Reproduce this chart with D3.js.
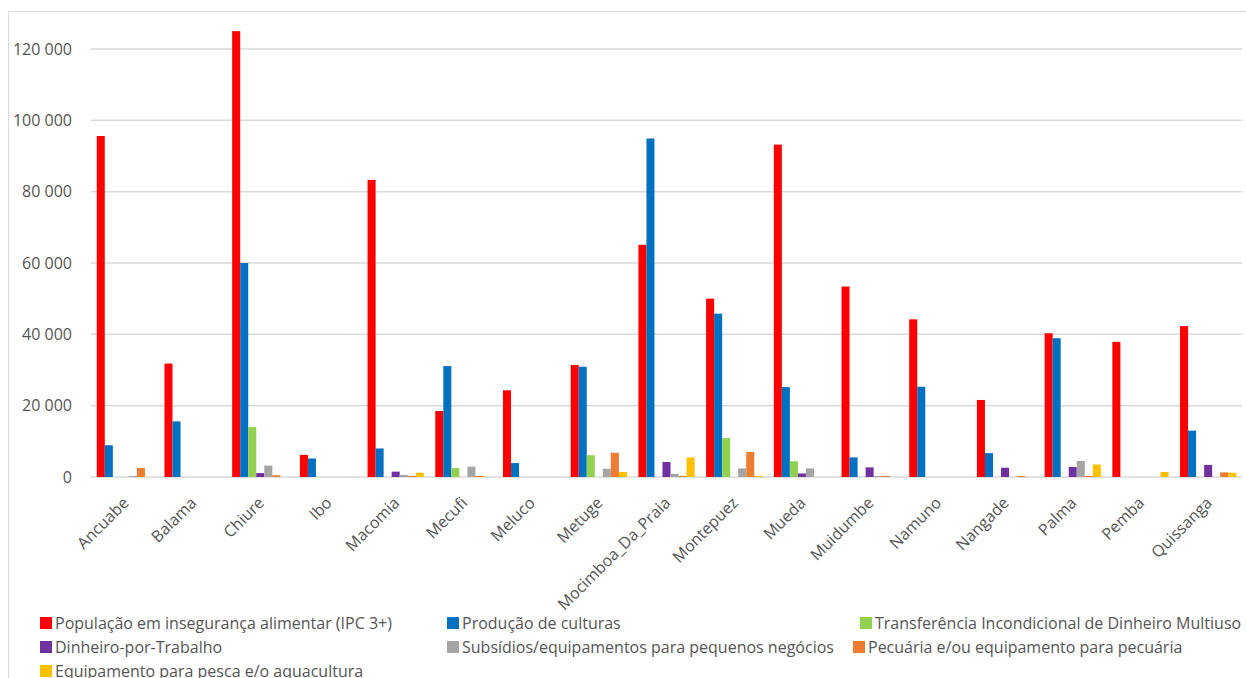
<!DOCTYPE html>
<html>
<head>
<meta charset="utf-8">
<style>
  body { margin: 0; background: #fff; font-family: "Open Sans", Helvetica, Arial, sans-serif; }
  svg text { fill: #555555; }
</style>
</head>
<body>
<svg id="chart" width="1246" height="678"></svg>
<script src="https://cdn.jsdelivr.net/npm/d3@7/dist/d3.min.js"></script>
<script>
  // districts
  var categories = ["Ancuabe", "Balama", "Chiure", "Ibo", "Macomia", "Mecufi", "Meluco", "Metuge",
    "Mocimboa_Da_Praia", "Montepuez", "Mueda", "Muidumbe", "Namuno", "Nangade", "Palma", "Pemba", "Quissanga"];

  var seriesNames = [
    "População em insegurança alimentar (IPC 3+)",
    "Produção de culturas",
    "Transferência Incondicional de Dinheiro Multiuso",
    "Dinheiro-por-Trabalho",
    "Subsídios/equipamentos para pequenos negócios",
    "Pecuária e/ou equipamento para pecuária",
    "Equipamento para pesca e/o aquacultura"
  ];
  var seriesColors = ["#ff0000", "#0070c0", "#92d050", "#7030a0", "#a5a5a5", "#ed7d31", "#ffc000"];

  // values, one array per series
  var ipc      = [95600, 31800, 125000, 6200, 83300, 18500, 24300, 31400, 65100, 50000, 93200, 53400, 44200, 21600, 40300, 37900, 42300];
  var culturas = [8900, 15600, 60000, 5200, 8000, 31100, 3900, 30900, 94900, 45800, 25200, 5500, 25300, 6700, 38900, 0, 13000];
  var tidm     = [0, 0, 14000, 0, 0, 2500, 0, 6100, 0, 10900, 4400, 0, 0, 0, 0, 0, 0];
  var dpt      = [0, 0, 1100, 0, 1500, 0, 0, 0, 4200, 0, 1000, 2700, 0, 2600, 2800, 0, 3400];
  var subs     = [300, 0, 3200, 0, 600, 2900, 0, 2300, 900, 2400, 2400, 300, 0, 0, 4500, 0, 0];
  var pecuaria = [2500, 0, 500, 0, 300, 300, 0, 6800, 300, 7000, 0, 300, 0, 300, 300, 0, 1300];
  var pesca    = [0, 0, 0, 0, 1200, 0, 0, 1400, 5500, 300, 0, 0, 0, 0, 3500, 1400, 1200];
  var series = [ipc, culturas, tidm, dpt, subs, pecuaria, pesca];

  var yTicks = [0, 20000, 40000, 60000, 80000, 100000, 120000];

  var svg = d3.select("#chart");
  var plot = { left: 91, right: 1242, top: 49, bottom: 477 };

  // chart frame (only left & top visible in the crop)
  svg.append("path")
    .attr("d", "M8.5,678 V11.5 H1246")
    .attr("fill", "none")
    .attr("stroke", "#d9d9d9")
    .attr("stroke-width", 1);

  var y = d3.scaleLinear().domain([0, 120000]).range([plot.bottom, plot.top]);
  var x0 = d3.scaleBand().domain(categories).range([plot.left, plot.right]).paddingInner(0.17).paddingOuter(0.085);
  var x1 = d3.scaleBand().domain(d3.range(series.length)).range([0, x0.bandwidth()]);

  var fmt = function (v) { return d3.format(",")(v).replace(/,/g, " "); };

  // gridlines
  svg.append("g").selectAll("line").data(yTicks).enter().append("line")
    .attr("x1", plot.left).attr("x2", plot.right)
    .attr("y1", function (d) { return y(d); }).attr("y2", function (d) { return y(d); })
    .attr("stroke", "#d9d9d9").attr("stroke-width", 1.5);

  // y labels
  svg.append("g").selectAll("text").data(yTicks).enter().append("text")
    .attr("x", 72).attr("y", function (d) { return y(d); })
    .attr("dy", "0.35em")
    .attr("text-anchor", "end")
    .attr("font-size", "16px")
    .text(fmt);

  // bars
  var groups = svg.append("g").selectAll("g").data(categories).enter().append("g")
    .attr("transform", function (d) { return "translate(" + x0(d) + ",0)"; });
  groups.selectAll("rect")
    .data(function (d, i) { return series.map(function (s, k) { return { k: k, v: s[i] }; }); })
    .enter().append("rect")
    .attr("x", function (d) { return x1(d.k); })
    .attr("width", x1.bandwidth())
    .attr("y", function (d) { return y(d.v); })
    .attr("height", function (d) { return y(0) - y(d.v); })
    .attr("fill", function (d) { return seriesColors[d.k]; });

  // category labels
  svg.append("g").selectAll("text").data(categories).enter().append("text")
    .attr("transform", function (d) { return "translate(" + (x0(d) + x0.bandwidth() / 2 - 3) + ",496) rotate(-45)"; })
    .attr("text-anchor", "end")
    .attr("dy", "0.7em")
    .attr("font-size", "16px")
    .text(function (d) { return d; });

  // legend
  var legendPos = [[40, 623], [447, 623], [860, 623], [40, 647], [447, 647], [853, 647], [40, 671]];
  var leg = svg.append("g").selectAll("g").data(seriesNames).enter().append("g")
    .attr("transform", function (d, i) { return "translate(" + legendPos[i][0] + "," + legendPos[i][1] + ")"; });
  leg.append("rect").attr("x", 0).attr("y", -6).attr("width", 12).attr("height", 12)
    .attr("fill", function (d, i) { return seriesColors[i]; });
  leg.append("text").attr("x", 15).attr("dy", "0.35em").attr("font-size", "16px")
    .text(function (d) { return d; });
</script>
</body>
</html>
